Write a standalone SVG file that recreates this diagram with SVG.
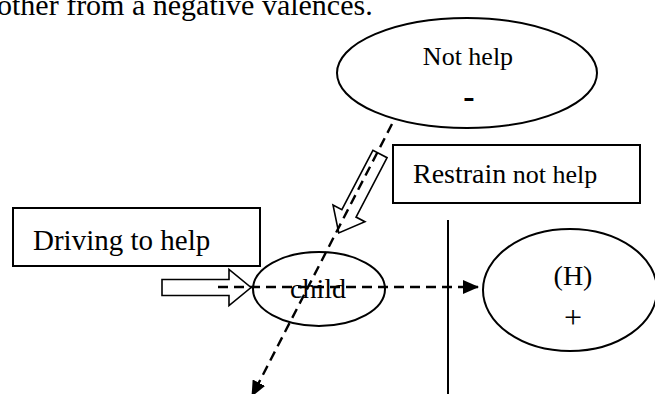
<svg xmlns="http://www.w3.org/2000/svg" width="655" height="394" viewBox="0 0 655 394">
  <defs>
    <style>
      .txt { font-family: "Liberation Serif", "Times New Roman", serif; fill: #000; }
      .shape { fill: #fff; stroke: #000; stroke-width: 2; }
      .outline { fill: none; stroke: #000; stroke-width: 1.6; stroke-linejoin: miter; }
      .dash { fill: none; stroke: #000; stroke-width: 2.4; stroke-dasharray: 10 6; }
      .solid { fill: none; stroke: #000; stroke-width: 2; }
    </style>
    <marker id="tri" markerUnits="userSpaceOnUse" markerWidth="16" markerHeight="14" viewBox="0 0 16 14" refX="15" refY="7" orient="auto">
      <path d="M0,0 L16,7 L0,14 Z" fill="#000"/>
    </marker>
    <!-- hollow block arrow pointing along +x, tail at origin -->
    <path id="blockArrow" d="M0,-8 L67,-8 L67,-18 L89,0 L67,18 L67,8 L0,8 Z"/>
  </defs>

  <rect width="655" height="394" fill="#fff"/>

  <text class="txt" x="-3" y="15" font-size="30">other from a negative valences.</text>

  <!-- nodes -->
  <g id="not-help">
    <ellipse class="shape" cx="467" cy="73" rx="130" ry="55"/>
    <text class="txt" x="468" y="65" font-size="26" text-anchor="middle">Not help</text>
    <text class="txt" x="469" y="108" font-size="34" font-weight="bold" text-anchor="middle">-</text>
  </g>

  <g id="restrain-box">
    <rect class="shape" x="393" y="145" width="247" height="58"/>
    <text class="txt" x="413" y="183"><tspan font-size="28">Restrain</tspan><tspan font-size="26"> not help</tspan></text>
  </g>

  <g id="driving-box">
    <rect class="shape" x="13" y="208" width="247" height="58"/>
    <text class="txt" x="33" y="250" font-size="29">Driving to help</text>
  </g>

  <g id="child">
    <ellipse class="shape" cx="319" cy="289" rx="66" ry="37"/>
    <text class="txt" x="318" y="298" font-size="28" text-anchor="middle">child</text>
  </g>

  <g id="help">
    <ellipse class="shape" cx="570" cy="290" rx="87" ry="61"/>
    <text class="txt" x="573" y="285" font-size="28" text-anchor="middle">(H)</text>
    <text class="txt" x="573" y="328" font-size="32" text-anchor="middle">+</text>
  </g>

  <g id="boundary">
    <line class="solid" x1="448" y1="220" x2="448" y2="394"/>
  </g>

  <!-- connectors -->
  <g id="connectors">
    <use href="#blockArrow" class="outline" transform="translate(162 287.5)"/>
    <use href="#blockArrow" class="outline" transform="translate(380 154) rotate(117.6)"/>
    <line class="dash" x1="218" y1="287" x2="478" y2="287" marker-end="url(#tri)"/>
    <line class="dash" x1="392" y1="124" x2="252" y2="396" marker-end="url(#tri)"/>
  </g>
</svg>
